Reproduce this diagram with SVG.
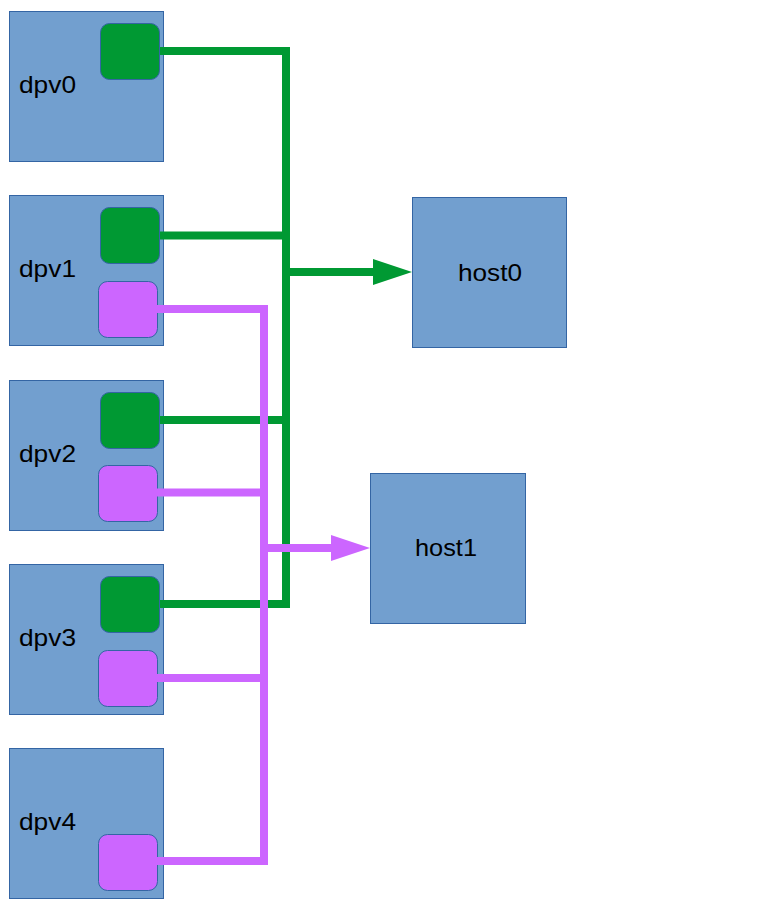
<svg xmlns="http://www.w3.org/2000/svg" width="762" height="905" viewBox="0 0 762 905">
<style>
.box{fill:#729fcf;stroke:#3465a4;stroke-width:1}
.g{fill:#009933;stroke:#3465a4;stroke-width:1}
.p{fill:#cc66ff;stroke:#3465a4;stroke-width:1}
.lbl{font-family:"Liberation Sans",Arial,sans-serif;font-size:24px;fill:#000}
.gl{fill:none;stroke:#009933;stroke-width:8;stroke-linejoin:miter}
.pl{fill:none;stroke:#cc66ff;stroke-width:8;stroke-linejoin:miter}
</style>
<rect width="762" height="905" fill="#fff"/>
<g id="dpv0">
<rect class="box" x="9.5" y="11.5" width="154" height="150"/>
<rect class="g" x="100.5" y="23.5" width="59" height="56" rx="9"/>
<text class="lbl" x="19" y="93" textLength="57" lengthAdjust="spacingAndGlyphs">dpv0</text>
</g>
<g id="dpv1">
<rect class="box" x="9.5" y="195.5" width="154" height="150"/>
<rect class="g" x="100.5" y="207.5" width="59" height="56" rx="9"/>
<rect class="p" x="98.5" y="281.5" width="59" height="56" rx="9"/>
<text class="lbl" x="19" y="277" textLength="57" lengthAdjust="spacingAndGlyphs">dpv1</text>
</g>
<g id="dpv2">
<rect class="box" x="9.5" y="380.5" width="154" height="150"/>
<rect class="g" x="100.5" y="392.5" width="59" height="56" rx="9"/>
<rect class="p" x="98.5" y="465.5" width="59" height="56" rx="9"/>
<text class="lbl" x="19" y="462" textLength="57" lengthAdjust="spacingAndGlyphs">dpv2</text>
</g>
<g id="dpv3">
<rect class="box" x="9.5" y="564.5" width="154" height="150"/>
<rect class="g" x="100.5" y="576.5" width="59" height="56" rx="9"/>
<rect class="p" x="98.5" y="650.5" width="59" height="56" rx="9"/>
<text class="lbl" x="19" y="646" textLength="57" lengthAdjust="spacingAndGlyphs">dpv3</text>
</g>
<g id="dpv4">
<rect class="box" x="9.5" y="748.5" width="154" height="150"/>
<rect class="p" x="98.5" y="834.5" width="59" height="56" rx="9"/>
<text class="lbl" x="19" y="830" textLength="57" lengthAdjust="spacingAndGlyphs">dpv4</text>
</g>
<g id="host0">
<rect class="box" x="412.5" y="197.5" width="154" height="150"/>
<text class="lbl" x="458" y="281" textLength="64" lengthAdjust="spacingAndGlyphs">host0</text>
</g>
<g id="host1">
<rect class="box" x="370.5" y="473.5" width="155" height="150"/>
<text class="lbl" x="415" y="556" textLength="62" lengthAdjust="spacingAndGlyphs">host1</text>
</g>
<g id="connectors">
<path class="gl" d="M160 51 H286 V604 H160"/>
<path class="gl" d="M160 235.5 H286 M160 420 H286 M286 272 H376"/>
<polygon fill="#009933" points="373,259 412,272 373,285"/>
<path class="pl" d="M157 309 H264 V861 H157"/>
<path class="pl" d="M157 492.5 H264 M157 678 H264 M264 548 H334"/>
<polygon fill="#cc66ff" points="331,535 370,548 331,561"/>
</g>
</svg>
